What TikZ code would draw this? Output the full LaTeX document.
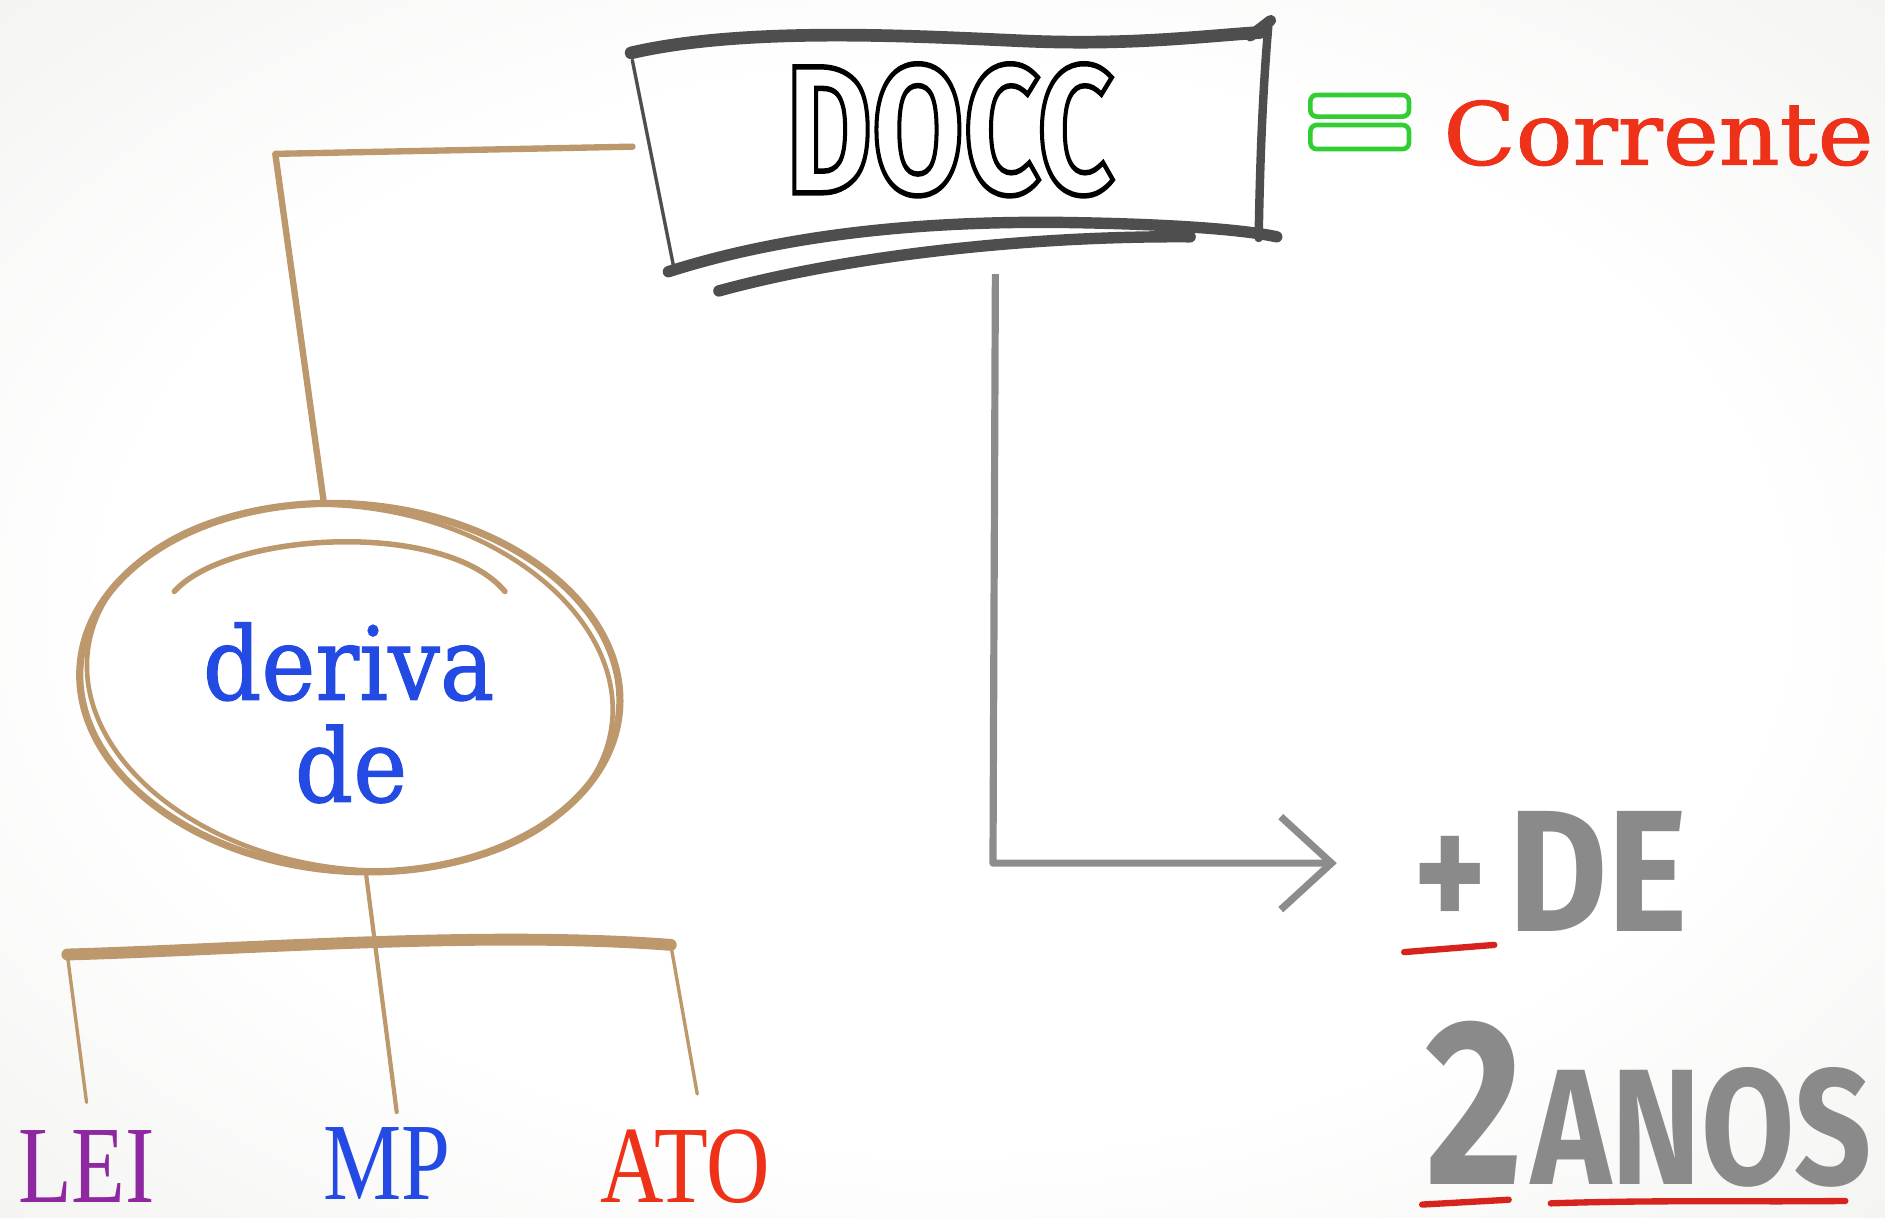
\documentclass[tikz,border=0pt]{standalone}
\usepackage{fontspec}
\usepackage{graphicx}
\usetikzlibrary{shapes.geometric,arrows.meta,calc}
\newfontfamily\serfont{DejaVu Serif}[FakeBold=1.2]
\newfontfamily\firafont{Fira Sans}
\newfontfamily\lsfont{Liberation Serif}
\definecolor{paperc}{RGB}{232,232,229}
\definecolor{tanc}{RGB}{188,152,108}
\definecolor{bangray}{RGB}{78,78,78}
\definecolor{arrgray}{RGB}{140,140,140}
\definecolor{txtgray}{RGB}{138,138,138}
\definecolor{redc}{RGB}{238,50,25}
\definecolor{ulred}{RGB}{215,35,30}
\definecolor{bluec}{RGB}{35,75,228}
\definecolor{purplec}{RGB}{142,40,160}
\definecolor{eqgreen}{RGB}{50,205,50}
\pgfdeclareradialshading{paper}{\pgfpoint{0bp}{0bp}}{color(0bp)=(white); color(22bp)=(white); color(50bp)=(paperc); color(72bp)=(paperc)}
\newcommand{\outlinetext}[1]{\special{pdf:literal direct 1 Tr 1.3 w}#1\special{pdf:literal direct 0 Tr}}
\begin{document}
\begin{tikzpicture}[x=0.01cm,y=-0.01cm,
  tanline/.style={draw=tanc, line cap=round, line join=round},
  banline/.style={draw=bangray, line cap=round, line join=round},
  ulline/.style={draw=ulred, line width=1.5pt, line cap=round},
  lbl/.style={anchor=base, inner sep=0pt}]
\shade[shading=paper] (0,0) rectangle (1568,1013);
\useasboundingbox (0,0) rectangle (1568,1013);

% banner
\draw[banline, line width=3pt] (525,44) .. controls (620,22) and (760,30) .. (850,34) .. controls (940,38) and (1000,30) .. (1048,27);
\draw[banline, line width=2.6pt] (1040,30) -- (1057,17);
\draw[banline, line width=2pt] (1055,22) .. controls (1050,80) and (1048,140) .. (1047,198);
\draw[banline, line width=0.8pt] (526,50) -- (560,220);
\draw[banline, line width=2.7pt] (556,226) .. controls (650,196) and (760,184) .. (880,185) .. controls (960,186) and (1030,190) .. (1062,197);
\draw[banline, line width=2.7pt] (598,242) .. controls (700,214) and (850,196) .. (990,197);

\node[text=black, inner sep=0pt, minimum width=5.26cm,
      font=\firafont\bfseries\fontsize{43}{43}\selectfont] (docc) at (790,108)
      {\scalebox{0.73}[1]{\outlinetext{DOCC}}};

% equals + Corrente
\draw[eqgreen, line width=1.1pt, rounded corners=1.5pt, fill=white] (1090,79) rectangle (1172,97);
\draw[eqgreen, line width=1.1pt, rounded corners=1.5pt, fill=white] (1090,104) rectangle (1172,124);
\node[anchor=base west, inner sep=0pt, text=redc,
      font=\serfont\fontsize{20.5}{20.5}\selectfont] (corr) at (1200,137)
      {\scalebox{1.09}[1]{Corrente}};

% ellipse
\node[ellipse, draw=tanc, line width=1.7pt, minimum width=4.5cm, minimum height=3.05cm,
      inner sep=0pt, rotate=-5] (ell) at (291,572) {};
\draw[tanc, line width=1.1pt, rotate around={-9:(291,572)}] (291,572) ellipse [x radius=2.2cm, y radius=1.5cm];
\draw[tanline, line width=1.3pt] (145,492) .. controls (190,442) and (370,432) .. (420,492);
\node[lbl, text=bluec, font=\serfont\fontsize{24}{24}\selectfont] (der) at (290,582) {\scalebox{0.9}[1]{deriva}};
\node[lbl, text=bluec, font=\serfont\fontsize{24}{24}\selectfont] (de) at (292,667) {\scalebox{0.9}[1]{de}};

% connector DOCC -> ellipse
\coordinate (c1) at (229,128);
\draw[tanline, line width=1.5pt] ($(docc.west)+(0,14)$) -- (c1) -- (ell.103);

% labels
\node[lbl, text=purplec, font=\lsfont\fontsize{26}{26}\selectfont] (lei) at (72,1000) {\scalebox{0.8}[1]{LEI}};
\node[lbl, text=bluec, font=\lsfont\fontsize{26}{26}\selectfont] (mp) at (322,998) {\scalebox{0.8}[1]{MP}};
\node[lbl, text=redc, font=\lsfont\fontsize{26}{26}\selectfont] (ato) at (570,1000) {\scalebox{0.8}[1]{ATO}};

% bar + legs
\coordinate (bl) at (56,794);
\coordinate (br) at (558,786);
\coordinate (leiend) at (72,917);
\coordinate (mpend) at (330,925);
\coordinate (atoend) at (580,910);
\draw[tanline, line width=2.8pt] (bl) .. controls (200,790) and (400,774) .. (br);
\draw[tanline, line width=0.8pt] (bl) -- (leiend);
\draw[tanline, line width=0.8pt] (br) -- (atoend);
\draw[tanline, line width=1pt] (ell.-80) -- (mpend);

% right side
\node[anchor=base west, inner sep=0pt, text=txtgray,
      font=\firafont\bfseries\fontsize{41}{41}\selectfont] (plusde) at (1175,775)
      {\scalebox{0.8}[1]{+}\kern5pt\scalebox{0.88}[1]{DE}};
\node[anchor=base west, inner sep=0pt, text=txtgray,
      font=\firafont\bfseries\fontsize{39}{39}\selectfont] (anos) at (1185,985)
      {\scalebox{0.8}[1]{\fontsize{56}{56}\selectfont 2}\kern2pt\scalebox{0.82}[1]{ANOS}};

\coordinate (a0) at (828,228);
\coordinate (a1) at (826,718);
\coordinate (a2) at (1112,718);
\draw[arrgray, line width=1.7pt, line join=round,
      -{Straight Barb[length=12pt,width=22pt,line width=1.7pt]}] (a0) -- (a1) -- (a2);

\draw[ulline] (1168,792) -- (1243,786);
\draw[ulline] (1183,1002) -- (1255,998);
\draw[ulline] (1290,1001) .. controls (1380,998) and (1460,1000) .. (1535,999);
\end{tikzpicture}
\end{document}
